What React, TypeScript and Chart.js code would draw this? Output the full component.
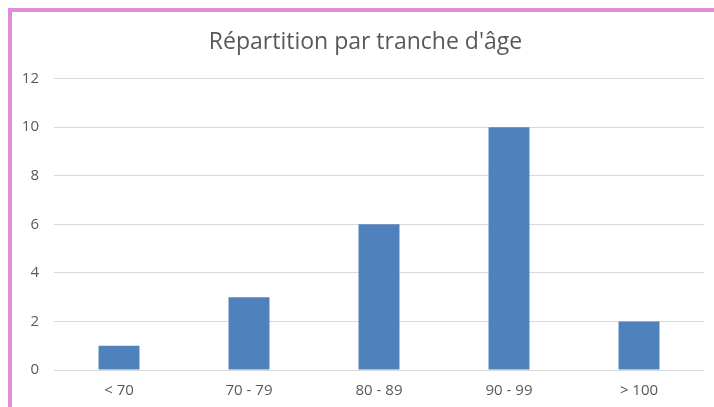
import React, { useEffect, useRef } from "react";
import { Chart, registerables } from "chart.js";

Chart.register(...registerables);

const TITLE = "Répartition par tranche d'âge";
const categories = ["< 70", "70 - 79", "80 - 89", "90 - 99", "> 100"];
const counts = [1, 3, 6, 10, 2];
const yMin = 0;
const yMax = 12;
const yStep = 2;

const FONT = "'Open Sans', 'Noto Sans', sans-serif";

const shiftTitle = {
  id: "shiftTitle",
  afterLayout(chart: any) {
    const t = chart.titleBlock;
    if (t) {
      t.left += 15;
    }
  },
};

export default function App() {
  const ref = useRef<HTMLCanvasElement | null>(null);

  useEffect(() => {
    if (!ref.current) return;
    const chart = new Chart(ref.current, {
      type: "bar",
      data: {
        labels: categories,
        datasets: [
          {
            data: counts,
            backgroundColor: "#4F81BD",
            borderWidth: 0,
            categoryPercentage: 1,
            barPercentage: 0.315,
          },
        ],
      },
      options: {
        animation: false,
        responsive: false,
        maintainAspectRatio: false,
        devicePixelRatio: 1,
        layout: { padding: { left: 0, right: 10, top: 0, bottom: 0 } },
        plugins: {
          legend: { display: false },
          tooltip: { enabled: false },
          title: {
            display: true,
            text: TITLE,
            color: "#595959",
            font: { family: FONT, size: 23, weight: "normal" },
            padding: { top: 17, bottom: 22 },
          },
        },
        scales: {
          x: {
            grid: { display: false, drawTicks: false },
            border: { display: false },
            ticks: {
              color: "#595959",
              font: { family: FONT, size: 15 },
              padding: 12,
            },
            afterFit: (s: any) => {
              s.height = 37;
            },
          },
          y: {
            min: yMin,
            max: yMax,
            grid: { color: "#D9D9D9", drawTicks: false, lineWidth: 1 },
            border: { display: false },
            ticks: {
              stepSize: yStep,
              color: "#595959",
              font: { family: FONT, size: 15 },
              padding: 15,
            },
            afterFit: (s: any) => {
              s.width = 42;
            },
          },
        },
      },
      plugins: [shiftTitle],
    });
    return () => chart.destroy();
  }, []);

  return (
    <div>
      <div
        style={{
          position: "fixed",
          left: 8,
          top: 8,
          right: 0,
          bottom: 0,
          borderTop: "4px solid #DE8ED8",
          borderLeft: "4px solid #DE8ED8",
          background: "#FFFFFF",
        }}
      />
      <div style={{ position: "fixed", left: 12, top: 12 }}>
        <canvas ref={ref} width={702} height={395} style={{ display: "block" }} />
      </div>
    </div>
  );
}
